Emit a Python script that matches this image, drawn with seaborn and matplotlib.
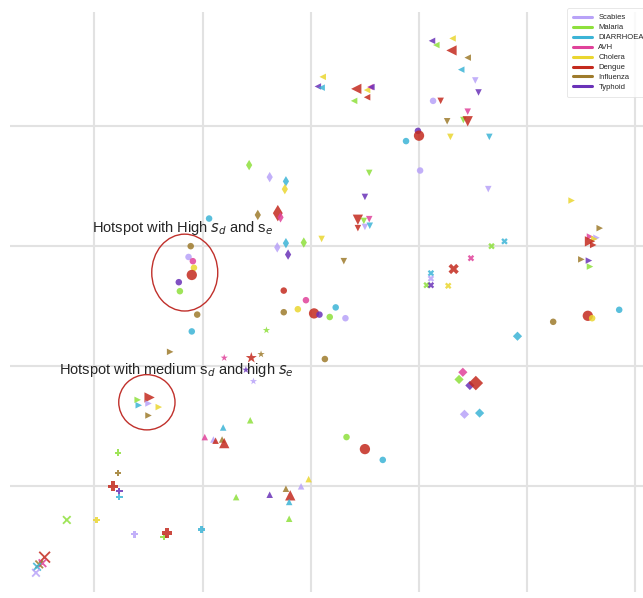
import matplotlib
matplotlib.use("Agg")
import matplotlib.pyplot as plt
from matplotlib.patches import Ellipse
from matplotlib.lines import Line2D
import seaborn as sns
import pandas as pd

diseases = ["Scabies", "Malaria", "DIARRHOEA", "AVH", "Cholera", "Dengue", "Influenza", "Typhoid"]
colors = ["#b8a2f8", "#8ee03c", "#3cb4d6", "#e0429a", "#ead630", "#c42a1e", "#9e7b2c", "#6a32b8"]

# embedding coordinates, one list per cluster
# cluster A (left triangles)
a_x = [1.1, 0.65, 1.0, 4.2, 5.2, 5.5, 5.6, 5.2, 4.0, 11.2, 11.6, 13.1, 13.0, 14.5, 13.9]
a_y = [24.1, 23.3, 23.2, 23.1, 23.0, 23.25, 23.25, 22.4, 22.1, 27.1, 26.75, 27.3, 26.3, 25.7, 24.7]
a_d = ["Cholera", "Typhoid", "DIARRHOEA", "Dengue", "Cholera", "AVH", "Typhoid", "Dengue", "Malaria",
       "Typhoid", "Malaria", "Cholera", "Dengue", "Influenza", "DIARRHOEA"]
a_l = [1, 1, 1, 2, 1, 1, 1, 1, 1, 1, 1, 1, 2, 1, 1]

# cluster B (down triangles)
b_x = [15.2, 15.5, 12.0, 14.5, 12.6, 14.1, 14.5, 12.9, 16.5, 16.4, 1.0, 3.05, 5.4, 5.0, 4.35, 4.9, 5.4, 4.35, 5.0, 5.45]
b_y = [23.8, 22.8, 22.1, 21.2, 20.4, 20.5, 20.4, 19.1, 19.1, 14.75, 10.6, 8.75, 16.1, 14.1, 12.2, 12.1, 12.25, 11.5, 11.6, 11.7]
b_d = ["Scabies", "Typhoid", "Dengue", "AVH", "Influenza", "Malaria", "Dengue", "Cholera", "DIARRHOEA", "Scabies",
       "Cholera", "Influenza", "Malaria", "Typhoid", "Dengue", "Malaria", "AVH", "Dengue", "Scabies", "DIARRHOEA"]
b_l = [1, 1, 1, 1, 1, 1, 2, 1, 1, 1, 1, 1, 1, 1, 2, 1, 1, 1, 1, 1]

# cluster C (circles)
c_x = [11.3, 9.9, 10.0, 8.8, 10.1, -9.4, -11.1, -11.3, -10.9, -10.8, -11.0, -12.2, -12.1, -10.5, -11.0,
       -2.5, -0.45, -2.5, -1.2, 0.3, 0.8, 2.3, 1.75, 3.2, 1.3, 3.3, 5.0, 6.65, 28.5, 25.6, 26.0, 22.4]
c_y = [22.1, 19.6, 19.2, 18.75, 16.3, 12.3, 10.0, 9.1, 8.75, 8.2, 7.6, 7.0, 6.25, 4.3, 2.9,
       6.3, 5.5, 4.5, 4.75, 4.4, 4.3, 4.9, 4.1, 4.0, 0.6, -5.9, -6.9, -7.8, 4.7, 4.2, 4.0, 3.7]
c_d = ["Scabies", "Typhoid", "Dengue", "DIARRHOEA", "Scabies", "DIARRHOEA", "Influenza", "Scabies", "AVH",
       "Cholera", "Dengue", "Typhoid", "Malaria", "Influenza", "DIARRHOEA", "Dengue", "AVH", "Influenza",
       "Cholera", "Dengue", "Typhoid", "DIARRHOEA", "Malaria", "Scabies", "Influenza", "Malaria", "Dengue",
       "DIARRHOEA", "DIARRHOEA", "Dengue", "Cholera", "Influenza"]
c_l = [1, 1, 2, 1, 1, 1, 1, 1, 1, 1, 2, 1, 1, 1, 1, 1, 1, 1, 1, 2, 1, 1, 1, 1, 1, 1, 2, 1, 1, 2, 1, 1]

# cluster D (thin diamonds)
d_x = [-5.7, -3.8, -2.3, -2.4, -4.9, -3.05, -2.8, -2.3, -3.1, -0.65, -2.1]
d_y = [16.75, 15.75, 15.4, 14.75, 12.6, 12.75, 12.4, 10.25, 9.9, 10.3, 9.3]
d_d = ["Malaria", "Scabies", "DIARRHOEA", "Cholera", "Influenza", "Dengue", "AVH", "DIARRHOEA", "Scabies",
       "Malaria", "Typhoid"]
d_l = [1, 1, 1, 1, 1, 2, 1, 1, 1, 1, 1]

# cluster E (diamonds)
e_x = [19.1, 14.05, 13.7, 14.7, 15.25, 14.2, 15.6]
e_y = [2.5, -0.5, -1.1, -1.6, -1.4, -4.0, -3.9]
e_d = ["DIARRHOEA", "AVH", "Malaria", "Typhoid", "Dengue", "Scabies", "DIARRHOEA"]
e_l = [1, 1, 1, 1, 2, 1, 1]

# cluster F (filled x)
f_x = [17.9, 16.7, 14.8, 13.2, 11.1, 11.1, 10.7, 11.1, 12.7]
f_y = [10.4, 10.0, 9.0, 8.1, 7.75, 7.3, 6.75, 6.75, 6.7]
f_d = ["DIARRHOEA", "Malaria", "AVH", "Dengue", "DIARRHOEA", "Scabies", "Malaria", "Typhoid", "Cholera"]
f_l = [1, 1, 1, 2, 1, 1, 1, 1, 1]

# cluster G (right triangles)
g_x = [24.1, 26.7, 25.8, 26.4, 26.2, 25.8, 26.1, 25.0, 25.7, 25.8, -13.0, -16.0, -15.9, -14.9, -15.0, -14.05, -15.0]
g_y = [13.8, 11.5, 10.8, 10.7, 10.6, 10.4, 10.1, 8.9, 8.8, 8.3, 1.2, -2.8, -3.25, -2.6, -3.1, -3.4, -4.1]
g_d = ["Cholera", "Influenza", "AVH", "Scabies", "Cholera", "Dengue", "Dengue", "Influenza", "Typhoid", "Malaria",
       "Influenza", "Malaria", "DIARRHOEA", "Dengue", "Scabies", "Cholera", "Influenza"]
g_l = [1, 1, 1, 1, 1, 2, 1, 1, 1, 1, 1, 1, 1, 2, 1, 1, 1]

# cluster H (stars)
h_x = [-4.1, -8.0, -5.5, -4.6, -6.0, -5.3]
h_y = [3.0, 0.7, 0.7, 1.0, -0.3, -1.25]
h_d = ["Malaria", "AVH", "Dengue", "Influenza", "Typhoid", "Scabies"]
h_l = [1, 1, 2, 1, 1, 1]

# cluster I (up triangles)
i_x = [-5.6, -8.1, -9.8, -9.0, -8.2, -8.8, -8.0, -0.2, -0.9, -2.3, -3.8, -1.9, -2.0, -6.9, -2.0]
i_y = [-4.5, -5.1, -5.9, -6.1, -6.1, -6.2, -6.4, -9.4, -10.0, -10.2, -10.7, -10.75, -11.3, -10.9, -12.7]
i_d = ["Malaria", "DIARRHOEA", "AVH", "Scabies", "Influenza", "Dengue", "Dengue", "Cholera", "Scabies",
       "Influenza", "Typhoid", "Dengue", "DIARRHOEA", "Malaria", "Malaria"]
i_l = [1, 1, 1, 1, 1, 1, 2, 1, 1, 1, 1, 2, 1, 1, 1]

# cluster J (plus)
j_x = [-17.8, -17.8, -18.3, -17.7, -17.7, -19.8, -16.3, -13.6, -13.3, -10.1]
j_y = [-7.2, -8.9, -10.0, -10.4, -10.9, -12.8, -14.0, -14.2, -13.9, -13.6]
j_d = ["Malaria", "Influenza", "Dengue", "Typhoid", "DIARRHOEA", "Cholera", "Scabies", "Malaria", "Dengue", "DIARRHOEA"]
j_l = [1, 1, 2, 1, 1, 1, 1, 1, 2, 1]

# cluster K (thin x)
k_x = [-22.55, -24.6, -24.8, -25.1, -25.3, -25.4]
k_y = [-12.8, -15.9, -16.4, -16.5, -16.7, -17.2]
k_d = ["Malaria", "Dengue", "AVH", "Influenza", "DIARRHOEA", "Scabies"]
k_l = [1, 2, 1, 1, 1, 1]

clusters = {
    "<": (a_x, a_y, a_d, a_l), "v": (b_x, b_y, b_d, b_l), "o": (c_x, c_y, c_d, c_l),
    "d": (d_x, d_y, d_d, d_l), "D": (e_x, e_y, e_d, e_l), "X": (f_x, f_y, f_d, f_l),
    ">": (g_x, g_y, g_d, g_l), "*": (h_x, h_y, h_d, h_l), "^": (i_x, i_y, i_d, i_l),
    "P": (j_x, j_y, j_d, j_l), "x": (k_x, k_y, k_d, k_l),
}

sns.set_theme(style="whitegrid")
plt.rcParams['font.family'] = ['Liberation Sans', 'DejaVu Sans']
plt.rcParams['mathtext.fontset'] = 'dejavusans'

palette = dict(zip(diseases, colors))

fig = plt.figure(figsize=(6.43, 5.98), dpi=100)
ax = fig.add_axes([10 / 643, 6 / 598, 633 / 643, 580 / 598])

for mk, (xs, ys, ds, ls) in clusters.items():
    df = pd.DataFrame({"x": xs, "y": ys, "disease": ds, "level": ls})
    sizes = {1: 22, 2: 55}
    if mk == "x":
        sns.scatterplot(data=df, x="x", y="y", hue="disease", palette=palette, size="level",
                        sizes={1: 30, 2: 60}, marker="x", linewidth=1.3, alpha=0.85, legend=False, ax=ax)
    else:
        if mk == "*":
            sizes = {1: 30, 2: 70}
        if mk == "d":
            sizes = {1: 28, 2: 70}
        sns.scatterplot(data=df, x="x", y="y", hue="disease", palette=palette, size="level",
                        sizes=sizes, marker=mk, linewidth=0, edgecolor="none", alpha=0.85,
                        legend=False, ax=ax)

ax.set_xlim(-27.8, 30.7)
ax.set_ylim(-18.8, 29.5)
ax.set_xticks([-20, -10, 0, 10, 20, 30])
ax.set_yticks([-10, 0, 10, 20])
ax.set_xticklabels([])
ax.set_yticklabels([])
ax.set_xlabel(None)
ax.set_ylabel(None)
ax.tick_params(length=0)
ax.grid(True, color="#e2e2e2", linewidth=1.5)
for s in ax.spines.values():
    s.set_visible(False)

# hotspot annotations
ax.text(-20.2, 11.5, r"Hotspot with High $s_d$ and s$_e$", fontsize=10.5, va="center", ha="left")
ax.text(-23.3, -0.33, r"Hotspot with medium s$_d$ and high $s_e$", fontsize=10.5, va="center", ha="left")
ax.add_patch(Ellipse((-11.65, 7.8), 6.1, 6.4, fill=False, edgecolor="#c0302b", linewidth=1.0))
ax.add_patch(Ellipse((-15.15, -3.0), 5.2, 4.6, fill=False, edgecolor="#c0302b", linewidth=1.0))

handles = [Line2D([0], [0], color=c, lw=2.2) for c in colors]
leg = ax.legend(handles, diseases, loc="upper left", bbox_to_anchor=(567 / 643, 1 - 8 / 598),
                bbox_transform=fig.transFigure, fontsize=5.5, handlelength=2.5, frameon=True,
                borderpad=0.8, borderaxespad=0, labelspacing=0.34, handletextpad=0.8)
leg.get_frame().set_edgecolor("#dddddd")
leg.get_frame().set_linewidth(0.6)

fig.savefig("out.png", dpi=100)
